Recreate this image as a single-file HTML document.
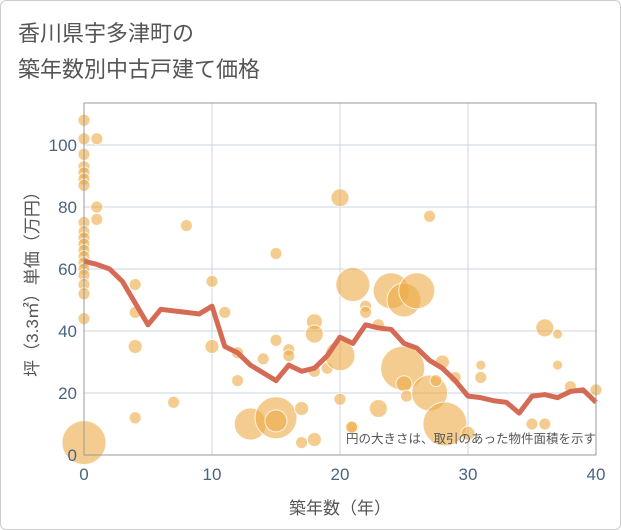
<!DOCTYPE html>
<html><head><meta charset="utf-8"><style>
body{margin:0;background:#fff}
#wrap{width:619px;height:528px;border:1px solid #ccc;position:relative;font-family:"Liberation Sans","Noto Sans CJK JP",sans-serif;border-radius:6px}
</style></head><body>
<div id="wrap">
<svg id="c" width="621" height="530" style="position:absolute;left:-1px;top:-1px">
<text x="18" y="41" font-size="22" fill="#555" font-family="Liberation Sans, Noto Sans CJK JP, sans-serif">香川県宇多津町の</text>
<text x="18" y="77" font-size="22" fill="#555" font-family="Liberation Sans, Noto Sans CJK JP, sans-serif">築年数別中古戸建て価格</text>
<g id="grid"></g><g id="bub"></g><g id="ln"></g><g id="ax"></g>
<text x="596" y="443" font-size="12.5" fill="#555" text-anchor="end" font-family="Liberation Sans, Noto Sans CJK JP, sans-serif">円の大きさは、取引のあった物件面積を示す</text>
<text x="340" y="514" font-size="17" fill="#555" text-anchor="middle" font-family="Liberation Sans, Noto Sans CJK JP, sans-serif">築年数（年）</text>
<text transform="translate(38,280) rotate(-90)" font-size="17" fill="#555" text-anchor="middle" font-family="Liberation Sans, Noto Sans CJK JP, sans-serif">坪（3.3㎡）単価（万円）</text>
</svg></div>
<script>
const xTicks=[0,10,20,30,40];
const yTicks=[0,20,40,60,80,100];
const lineX=[0,1,2,3,4,5,6,7,8,9,10,11,12,13,14,15,16,17,18,19,20,21,22,23,24,25,26,27,28,29,30,31,32,33,34,35,36,37,38,39,40];
const lineY=[62.5,61.5,60,56,49,42,47,46.5,46,45.5,48,35,33,29,26.5,24,29,27,28,32,38,36,42,41,40.5,36,34.5,30.5,28,24,19,18.5,17.5,17,13.5,19,19.5,18.5,20.5,21,17];
const bubX=[0,0,0,0,0,0,0,0,0,0,0,0,0,0,0,0,0,0,0,0,1,1,1,4,4,4,4,7,8,10,10,11,12,12,13,14,15,15,15,15,16,16,17,17,18,18,18,18,19,20,20,20,21,21,22,22,23,24,25,26,23,24.9,25,25.2,27,27,27.5,28,28.2,29,30,31,31,36,36,37,37,38,40,35,20.9];
const bubY=[108,102,97,93,91,89,87,75,72,70,68,66,64,62,60,58,55,52,44,4,102,80,76,55,46,35,12,17,74,56,35,46,33,24,10,31,65,37,12,11,34,32,15,4,43,39,27,5,28,83,32,18,55,9,48,46,42,53,50,53,15,28,23,19,77,20,24,30,10,25,7,29,25,41,10,39,29,22,21,10,9];
const bubR=[6,6,6,6,6,6,6,6,6,6,6,6,6,6,6,6,6,6,6,22,6,6,6,6,6,7,6,6,6,6,7,6,6,6,16,6,6,6,21,11,6,6,7,6,8,9,6,7,6,9,15,6,17,6,6,6,6,18,17,18,9,22,8,6,6,18,6,7,22,6,7,5,6,9,6,5,5,6,6,6,6];
const X=v=>84+v*12.8, Y=v=>455-v*3.1;
const NS="http://www.w3.org/2000/svg";
function mk(t,a,p){const e=document.createElementNS(NS,t);for(const k in a)e.setAttribute(k,a[k]);p.appendChild(e);return e;}
const g=document.getElementById('grid'),ax=document.getElementById('ax');
for(const t of xTicks){const l=mk('line',{x1:X(t),x2:X(t),y1:103,y2:455,stroke:'#c8d6e2','stroke-width':1},g);


const tx=mk('text',{x:X(t),y:480,'font-size':17,fill:'#4a6480','text-anchor':'middle','font-family':'Liberation Sans, sans-serif'},ax);tx.textContent=t;

}
for(const t of yTicks){const l=mk('line',{x1:84,x2:596,y1:Y(t),y2:Y(t),stroke:'#c8d6e2','stroke-width':1},g);


const tx=mk('text',{x:77,y:Y(t)+6,'font-size':17,fill:'#4a6480','text-anchor':'end','font-family':'Liberation Sans, sans-serif'},ax);tx.textContent=t;

}
const fr=mk('rect',{x:84,y:103,width:512,height:352,fill:'none',stroke:'#999','stroke-width':1},ax);


const b=document.getElementById('bub');
bubX.forEach((x,i)=>{const c=mk('circle',{cx:X(x),cy:Y(bubY[i]),r:bubR[i],fill:'rgba(236,170,70,0.6)',stroke:'rgba(255,255,255,0.8)','stroke-width':1},b);

});
const p=mk('polyline',{points:lineX.map((x,i)=>X(x)+','+Y(lineY[i])).join(' '),fill:'none',stroke:'#d56b55','stroke-width':5,'stroke-linejoin':'round'},document.getElementById('ln'));


</script>
</body></html>
